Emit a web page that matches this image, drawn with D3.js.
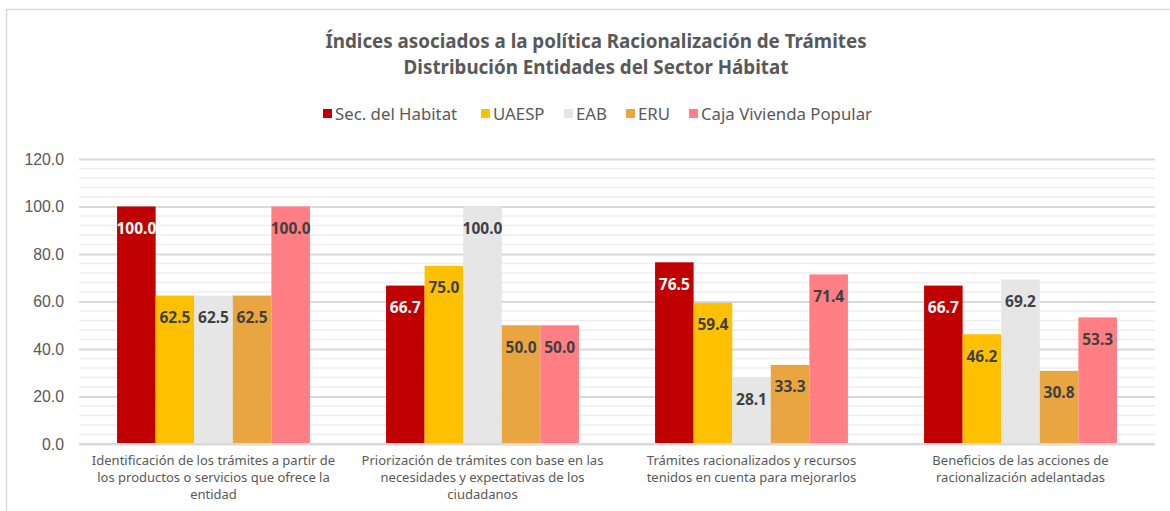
<!DOCTYPE html>
<html><head><meta charset="utf-8">
<script src="https://cdn.jsdelivr.net/npm/d3@7"></script>
<style>body{margin:0;background:#fff;}svg{display:block;font-family:"Noto Sans",sans-serif;}</style>
</head><body>
<svg id="c" width="1170" height="511"></svg>
<script>
const categories = [
  ["Identificación de los trámites a partir de","los productos o servicios que ofrece la","entidad"],
  ["Priorización de trámites con base en las","necesidades y expectativas de los","ciudadanos"],
  ["Trámites racionalizados y recursos","tenidos en cuenta para mejorarlos"],
  ["Beneficios de las acciones de","racionalización adelantadas"]
];
const seriesNames = ["Sec. del Habitat","UAESP","EAB","ERU","Caja Vivienda Popular"];
const secHabitat = [100.0, 66.7, 76.5, 66.7];
const uaesp = [62.5, 75.0, 59.4, 46.2];
const eab = [62.5, 100.0, 28.1, 69.2];
const eru = [62.5, 50.0, 33.3, 30.8];
const caja = [100.0, 50.0, 71.4, 53.3];
const yTicks = [0,20,40,60,80,100,120];
const colors = ["#C00000","#FFC000","#E7E6E6","#E9A640","#FF7F85"];
const labelColors = ["#ffffff","#404040","#404040","#404040","#404040"];
const titleLines = ["Índices asociados a la política Racionalización de Trámites","Distribución Entidades del Sector Hábitat"];

(function(){
const series = [secHabitat, uaesp, eab, eru, caja];
const svg = d3.select("#c");
svg.append("rect").attr("x",6.5).attr("y",9.5).attr("width",1200).attr("height",600)
  .attr("fill","none").attr("stroke","#d9d9d9").attr("stroke-width",1.5);

const pl=79,pr=1155,pt=159,pb=444;
const y = d3.scaleLinear().domain([0,120]).range([pb,pt]);
const x0 = d3.scaleBand().domain(d3.range(categories.length)).range([pl,pr]).paddingInner(0.283).paddingOuter(0.1415);
const x1 = d3.scaleBand().domain(d3.range(series.length)).range([0,x0.bandwidth()]);

const minor = d3.range(0,121,4).filter(v=>v%20!==0);
svg.append("g").selectAll("line").data(minor).join("line")
  .attr("x1",pl).attr("x2",pr).attr("y1",d=>y(d)).attr("y2",d=>y(d))
  .attr("stroke","#eeeeee").attr("stroke-width",1.5);
const ax = svg.append("g").attr("transform",`translate(${pl},0)`)
  .call(d3.axisLeft(y).tickValues(yTicks).tickFormat(d3.format(".1f")).tickSize(-(pr-pl)).tickPadding(15));
ax.select(".domain").remove();
ax.selectAll(".tick line").attr("stroke","#d9d9d9").attr("stroke-width",2);
ax.selectAll(".tick text").attr("fill","#595959").style("font-size","15.8px");

const g = svg.append("g");
series.forEach((vals,si)=>{
  g.selectAll(null).data(vals).join("rect")
    .attr("x",(d,i)=>x0(i)+x1(si)).attr("width",x1.bandwidth())
    .attr("y",d=>y(d)).attr("height",d=>pb-y(d)).attr("fill",colors[si]);
  g.selectAll(null).data(vals).join("text")
    .attr("x",(d,i)=>x0(i)+x1(si)+x1.bandwidth()/2)
    .attr("y",d=>y(d)+22).attr("dy","0.35em").attr("text-anchor","middle")
    .attr("fill",labelColors[si]).style("font-size","15.5px").style("font-weight","bold")
    .text(d=>d.toFixed(1));
});
svg.append("line").attr("x1",pl).attr("x2",pr).attr("y1",pb).attr("y2",pb)
  .attr("stroke","#d9d9d9").attr("stroke-width",2);

const cg = svg.append("g");
categories.forEach((lines,i)=>{
  lines.forEach((l,k)=>{
    cg.append("text").attr("text-anchor","middle").attr("fill","#595959").style("font-size","13px")
      .attr("x",x0(i)+x0.bandwidth()/2).attr("y",460+k*17).attr("dy","0.35em").text(l);
  });
});

titleLines.forEach((l,k)=>{
  svg.append("text").attr("x",596).attr("y",48+k*25.8).attr("text-anchor","middle")
    .attr("fill","#595959").style("font-size","18.8px").style("font-weight","bold").text(l);
});

const lg = svg.append("g");
const legX = [323,481,564,626,689];
seriesNames.forEach((n,i)=>{
  lg.append("rect").attr("x",legX[i]).attr("y",109).attr("width",9).attr("height",9).attr("fill",colors[i]);
  lg.append("text").attr("x",legX[i]+12).attr("y",114).attr("dy","0.35em").attr("fill","#595959")
    .style("font-size","16.8px").text(n);
});
})();
</script>
</body></html>
